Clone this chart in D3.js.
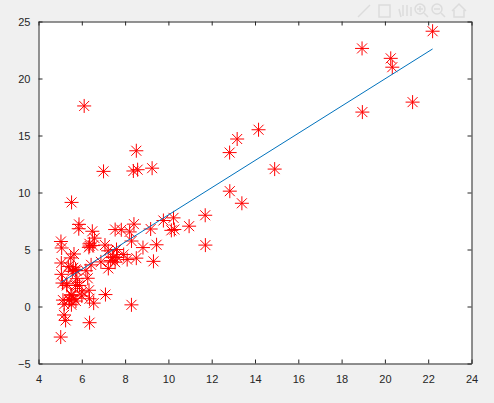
<!DOCTYPE html>
<html>
<head>
<meta charset="utf-8">
<script src="https://cdn.jsdelivr.net/npm/d3@7"></script>
<style>
  body { margin: 0; background: #f0f0f0; }
  svg { display: block; }
  .tick text { font-family: "Liberation Sans", Arial, sans-serif; font-size: 11px; fill: #262626; }
</style>
</head>
<body>
<svg id="chart" width="494" height="403"></svg>
<script>
// population (10,000s) and profit ($10,000s)
const population = [6.1101,5.5277,8.5186,7.0032,5.8598,8.3829,7.4764,8.5781,6.4862,5.0546,
  5.7107,14.164,5.734,8.4084,5.6407,5.3794,6.3654,5.1301,6.4296,7.0708,
  6.1891,20.27,5.4901,6.3261,5.5649,18.945,12.828,10.957,13.176,22.203,
  5.2524,6.5894,9.2482,5.8918,8.2111,7.9334,8.0959,5.6063,12.836,6.3534,
  5.4069,6.8825,11.708,5.7737,7.8247,7.0931,5.0702,5.8014,11.7,5.5416,
  7.5402,5.3077,7.4239,7.6031,6.3328,6.3589,6.2742,5.6397,9.3102,9.4536,
  8.8254,5.1793,21.279,14.908,18.959,7.2182,8.2951,10.236,5.4994,20.341,
  10.136,7.3345,6.0062,7.2259,5.0269,6.5479,7.5386,5.0365,10.274,5.1077,
  5.7292,5.1884,6.3557,9.7687,6.5159,8.5172,9.1802,6.002,5.5204,5.0594,
  5.7077,7.6366,5.8707,5.3054,8.2934,13.394,5.4369];
const profit = [17.592,9.1302,13.662,11.854,6.8233,11.886,4.3483,12,6.5987,3.8166,
  3.2522,15.505,3.1551,7.2258,0.71618,3.5129,5.3048,0.56077,3.6518,5.3893,
  3.1386,21.767,4.263,5.1875,3.0825,22.638,13.501,7.0467,14.692,24.147,
  -1.22,5.9966,12.134,1.8495,6.5426,4.5623,4.1164,3.3928,10.117,5.4974,
  0.55657,3.9115,5.3854,2.4406,6.7318,1.0463,5.1337,1.844,8.0043,1.0179,
  6.7504,1.8396,4.2885,4.9981,1.4233,-1.4211,2.4756,4.6042,3.9624,5.4141,
  5.1694,-0.74279,17.929,12.054,17.054,4.8852,5.7442,7.7754,1.0173,20.992,
  6.6799,4.0259,1.2784,3.3411,-2.6807,0.29678,3.8845,5.7014,6.7526,2.0576,
  0.47953,0.20421,0.67861,7.5435,5.3436,4.2415,6.7981,0.92695,0.152,2.8214,
  1.8451,4.2959,7.2029,1.9869,0.14454,9.0551,0.61705];
const theta = [-3.8958, 1.1930];
const xTicks = [4, 6, 8, 10, 12, 14, 16, 18, 20, 22, 24];
const yTicks = [-5, 0, 5, 10, 15, 20, 25];

const svg = d3.select("#chart");
const axLeft = 38.5, axRight = 471.5, axTop = 21.5, axBottom = 363.5;

const x = d3.scaleLinear().domain([4, 24]).range([axLeft, axRight]);
const y = d3.scaleLinear().domain([-5, 25]).range([axBottom, axTop]);

svg.append("rect")
  .attr("x", axLeft).attr("y", axTop)
  .attr("width", axRight - axLeft).attr("height", axBottom - axTop)
  .attr("fill", "#fff");

// faint figure toolbar
const tb = svg.append("g").attr("fill", "none").attr("stroke", "#dcdcdc").attr("stroke-width", 1.5);
tb.append("path").attr("d", "M358,17 L370,5");
tb.append("rect").attr("x", 379).attr("y", 5).attr("width", 11).attr("height", 12);
tb.append("path").attr("d", "M401,17 L399,9 M403,16 V5 M407,16 V5 M411,16 V7");
tb.append("circle").attr("cx", 420).attr("cy", 9).attr("r", 5);
tb.append("path").attr("d", "M424,13 L428,17 M417,9 H423 M420,6 V12");
tb.append("circle").attr("cx", 437).attr("cy", 9).attr("r", 5);
tb.append("path").attr("d", "M441,13 L445,17 M434,9 H440");
tb.append("path").attr("d", "M452,11 L459,4 L466,11 M454,10 V17 H464 V10");

const plot = svg.append("g");

// asterisk markers
plot.selectAll("path.pt")
  .data(d3.range(population.length))
  .enter().append("path")
  .attr("class", "pt")
  .attr("transform", i => `translate(${x(population[i])},${y(profit[i])})`)
  .attr("d", "M-7,0H7M0,-7V7M-5,-5L5,5M-5,5L5,-5")
  .attr("stroke", "#ff0000")
  .attr("stroke-width", 1)
  .attr("fill", "none");

// fitted line
const xMin = d3.min(population), xMax = d3.max(population);
plot.append("line")
  .attr("x1", x(xMin)).attr("y1", y(theta[0] + theta[1] * xMin))
  .attr("x2", x(xMax)).attr("y2", y(theta[0] + theta[1] * xMax))
  .attr("stroke", "#0072bd")
  .attr("stroke-width", 1);

// axes with inward ticks, box on
const axisStyle = g => {
  g.select(".domain").attr("stroke", "#262626");
  g.selectAll(".tick line").attr("stroke", "#262626");
};
svg.append("g").attr("transform", `translate(0,${axBottom})`)
  .call(d3.axisBottom(x).tickValues(xTicks).tickSizeInner(-4).tickSizeOuter(0).tickPadding(12))
  .call(axisStyle);
svg.append("g").attr("transform", `translate(0,${axTop})`)
  .call(d3.axisTop(x).tickValues(xTicks).tickSizeInner(-4).tickSizeOuter(0).tickFormat(""))
  .call(axisStyle);
svg.append("g").attr("transform", `translate(${axLeft},0)`)
  .call(d3.axisLeft(y).tickValues(yTicks).tickSizeInner(-4).tickSizeOuter(0).tickPadding(8))
  .call(axisStyle);
svg.append("g").attr("transform", `translate(${axRight},0)`)
  .call(d3.axisRight(y).tickValues(yTicks).tickSizeInner(-4).tickSizeOuter(0).tickFormat(""))
  .call(axisStyle);
</script>
</body>
</html>
